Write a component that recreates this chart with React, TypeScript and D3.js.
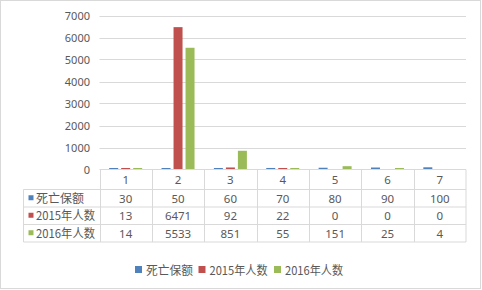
import React from "react";
import * as d3 from "d3";

const categories = ["1", "2", "3", "4", "5", "6", "7"];
const seriesNames = ["死亡保额", "2015年人数", "2016年人数"];
const deathAmount = [30, 50, 60, 70, 80, 90, 100];
const people2015 = [13, 6471, 92, 22, 0, 0, 0];
const people2016 = [14, 5533, 851, 55, 151, 25, 4];
const yTicks = [0, 1000, 2000, 3000, 4000, 5000, 6000, 7000];
const colors = ["#4f81bd", "#c0504d", "#9bbb59"];

const W = 482;
const H = 290;
const font = "'Noto Sans CJK SC', 'Noto Sans', sans-serif";
const numFont = "'Noto Sans', sans-serif";
const textColor = "#595959";
const lineColor = "#d9d9d9";

// measured text widths of the row/legend labels
const labelWidths = [48, 59, 59];

const App = () => {
  const series = [deathAmount, people2015, people2016];

  const x = d3.scaleBand().domain(categories).range([99.5, 466]);
  const y = d3.scaleLinear().domain([0, 7000]).range([169.5, 15.5]);
  const x1 = d3
    .scaleBand()
    .domain(seriesNames)
    .range([0, 36])
    .paddingInner(0.25)
    .paddingOuter(0.125);

  const headerTop = 169.5;
  const rowEdges = [189.5, 207, 224.5, 242];
  const labelLeft = 23.5;

  return (
    <svg
      width={W}
      height={H}
      style={{ position: "absolute", left: 0, top: 0, background: "white" }}
      fontFamily={font}
    >
      <rect x={0.5} y={0.5} width={W - 2} height={H - 2} fill="white" stroke={lineColor} />

      {/* gridlines + y labels */}
      {yTicks.map((t) => (
        <g key={t}>
          {t > 0 && (
            <line x1={99.5} x2={466} y1={Math.round(y(t)) + 0.5} y2={Math.round(y(t)) + 0.5} stroke={lineColor} />
          )}
          <text x={90} y={y(t) + 4} textAnchor="end" fontSize={11} fontFamily={numFont} fill={textColor}>
            {t}
          </text>
        </g>
      ))}

      {/* bars */}
      {categories.map((c, i) => {
        const cx = x(c)! + x.bandwidth() / 2 - 18;
        return (
          <g key={c}>
            {series.map((s, k) => {
              if (s[i] <= 0) return null;
              const h = s[i] >= 10 ? Math.max(1.5, y(0) - y(s[i])) : y(0) - y(s[i]);
              return (
                <rect
                  key={k}
                  x={cx + x1(seriesNames[k])!}
                  y={y(0) - h}
                  width={x1.bandwidth()}
                  height={h}
                  fill={colors[k]}
                />
              );
            })}
          </g>
        );
      })}

      {/* data table */}
      <g stroke={lineColor} fill="none">
        <line x1={99.5} x2={466} y1={headerTop} y2={headerTop} />
        {rowEdges.map((ry, i) => (
          <line key={i} x1={labelLeft} x2={466} y1={ry} y2={ry} />
        ))}
        <line x1={labelLeft} x2={labelLeft} y1={rowEdges[0]} y2={rowEdges[3]} />
        {categories.map((c) => (
          <line key={c} x1={Math.round(x(c)!) + 0.5} x2={Math.round(x(c)!) + 0.5} y1={headerTop} y2={rowEdges[3]} />
        ))}
        <line x1={466} x2={466} y1={headerTop} y2={rowEdges[3]} />
      </g>

      {categories.map((c) => (
        <text
          key={c}
          x={x(c)! + x.bandwidth() / 2}
          y={184}
          textAnchor="middle"
          fontSize={11.5}
          fontFamily={numFont}
          fill={textColor}
        >
          {c}
        </text>
      ))}

      {seriesNames.map((name, k) => {
        const top = rowEdges[k];
        const bottom = rowEdges[k + 1];
        const mid = (top + bottom) / 2;
        return (
          <g key={name}>
            <rect x={28.5} y={mid - 3} width={5} height={5} fill={colors[k]} />
            <text
              x={36}
              y={mid + 4.5}
              fontSize={12}
              fill={textColor}
              textLength={labelWidths[k]}
              lengthAdjust="spacingAndGlyphs"
            >
              {name}
            </text>
            {series[k].map((v, i) => (
              <text
                key={i}
                x={x(categories[i])! + x.bandwidth() / 2}
                y={mid + 4.5}
                textAnchor="middle"
                fontSize={11.5}
                fontFamily={numFont}
                fill={textColor}
              >
                {v}
              </text>
            ))}
          </g>
        );
      })}

      {/* legend */}
      {seriesNames.map((name, k) => {
        const lx = [135, 198.5, 274][k];
        return (
          <g key={name}>
            <rect x={lx} y={266} width={7} height={7} fill={colors[k]} />
            <text
              x={lx + 11}
              y={274.5}
              fontSize={12}
              fill={textColor}
              textLength={labelWidths[k] - 1}
              lengthAdjust="spacingAndGlyphs"
            >
              {name}
            </text>
          </g>
        );
      })}
    </svg>
  );
};

export default App;
